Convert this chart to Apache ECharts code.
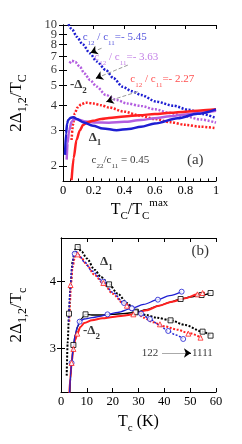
<!DOCTYPE html>
<html><head><meta charset="utf-8">
<script src="https://cdn.jsdelivr.net/npm/echarts@6/dist/echarts.min.js"></script>
<style>html,body{margin:0;padding:0;background:#fff}#c{width:242px;height:444px}</style>
</head><body><div id="c"></div>
<script>
// ---------- Panel (a) data: [Tc/Tc_max, 2Δ/Tc] ----------
const aBlueDotted = [[0.035,10.1],[0.06,9.5],[0.09,8.75],[0.13,8.0],[0.176,7.24],[0.22,6.6],[0.28,5.98],[0.33,5.45],[0.39,4.94],[0.45,4.7],[0.51,4.5],[0.61,4.17],[0.72,3.98],[0.82,3.8],[0.91,3.62],[1.0,3.45]];
const aPurpleDotted = [[0.043,6.46],[0.058,6.65],[0.08,6.55],[0.11,6.21],[0.14,5.75],[0.176,5.34],[0.22,4.95],[0.28,4.5],[0.35,4.25],[0.42,4.08],[0.51,3.97],[0.6,3.82],[0.7,3.66],[0.8,3.52],[0.9,3.4],[1.0,3.28]];
const aRedDotted = [[0.056,2.69],[0.065,3.2],[0.077,3.65],[0.095,3.9],[0.12,4.05],[0.15,4.12],[0.2,4.08],[0.25,4.0],[0.3,3.9],[0.4,3.72],[0.5,3.56],[0.6,3.42],[0.7,3.3],[0.8,3.2],[0.9,3.13],[1.0,3.08]];
const aBlueSolid = [[0.013,2.27],[0.02,2.9],[0.027,3.25],[0.034,3.38],[0.05,3.47],[0.067,3.49],[0.09,3.42],[0.13,3.3],[0.196,3.17],[0.26,3.07],[0.35,3.01],[0.43,3.05],[0.51,3.13],[0.6,3.25],[0.75,3.45],[0.88,3.63],[1.0,3.82]];
const aPurpleSolid = [[0.024,2.15],[0.03,2.6],[0.04,3.0],[0.056,3.31],[0.07,3.4],[0.085,3.42],[0.11,3.38],[0.15,3.32],[0.2,3.29],[0.3,3.28],[0.4,3.31],[0.51,3.38],[0.6,3.45],[0.7,3.53],[0.8,3.6],[0.9,3.68],[1.0,3.76]];
const aRedSolid = [[0.056,1.7],[0.07,2.2],[0.088,2.69],[0.11,3.0],[0.131,3.19],[0.16,3.3],[0.196,3.35],[0.25,3.42],[0.3,3.46],[0.4,3.52],[0.5,3.57],[0.6,3.62],[0.7,3.67],[0.8,3.72],[0.9,3.77],[1.0,3.82]];
const aXTicks = [0,0.2,0.4,0.6,0.8,1];
const aYTicks = [2,3,4,5,6,7,8,9,10];
const aArrows = [[[0.252,7.67],[0.18,7.29]],[[0.424,6.33],[0.215,5.44]],[[0.488,4.67],[0.284,4.17]]];
const aTexts = [
  {t:'c{s|12} / c{s|11}=- 5.45', at:[0.129,8.67], color:'#1e1ed2', size:11},
  {t:'c{s|12} / c{s|11}=- 3.63', at:[0.205,6.90], color:'#b35ee0', size:11},
  {t:'c{s|12} / c{s|11}=- 2.27', at:[0.44,5.40], color:'#ff2020', size:11},
  {t:'-Δ{s|2}', at:[0.045,5.04], color:'#000', size:13, bold:true},
  {t:'Δ{s|1}', at:[0.168,2.78], color:'#000', size:13, bold:true},
  {t:'c{s|22}/c{s|11} = 0.45', at:[0.187,2.14], color:'#000', size:11},
  {t:'(a)', at:[0.81,2.14], color:'#000', size:15}
];
// ---------- Panel (b) data: [Tc (K), 2Δ/Tc] ----------
const bBlackD1 = [[2.2,2.59],[2.6,3.1],[3.1,3.52],[3.7,3.95],[4.5,4.3],[5.4,4.48],[6.45,4.52],[8,4.45],[10,4.35],[13,4.18],[15.5,4.07],[18.6,3.96],[22,3.82],[25.5,3.68],[29,3.55],[33,3.5],[37,3.46],[42.4,3.42],[48,3.35],[54.8,3.25],[57.9,3.19]];
const bBlueD1 = [[3.0,3.4],[3.5,3.85],[4.2,4.2],[5.0,4.4],[5.7,4.46],[7,4.4],[9,4.3],[12,4.16],[16.4,4.0],[20,3.84],[24.4,3.68],[28.6,3.58],[31,3.52],[34.4,3.44],[38,3.35],[41.5,3.26],[44.5,3.2],[47.3,3.14]];
const bRedD1 = [[3.2,3.4],[3.5,3.7],[3.8,3.95],[4.5,4.22],[5.4,4.38],[6.45,4.41],[8,4.35],[10,4.25],[13,4.1],[16.5,3.97],[20,3.82],[24,3.68],[28.8,3.56],[32,3.46],[35.7,3.39],[40,3.33],[45,3.28],[49.3,3.23],[54.4,3.16]];
const bBlackD2 = [[3.4,2.3],[4.1,2.78],[4.8,3.05],[5.5,3.2],[6.5,3.33],[7.5,3.43],[9.5,3.51],[12,3.5],[16,3.5],[20,3.51],[24,3.52],[28.8,3.54],[33,3.58],[38,3.64],[42,3.69],[46.3,3.74],[50,3.77],[54.4,3.8],[57.9,3.83]];
const bBlueD2 = [[3.3,2.3],[3.7,2.6],[4.1,2.78],[4.8,3.03],[5.5,3.2],[6.3,3.32],[7.2,3.4],[9,3.44],[12,3.46],[15,3.48],[18,3.51],[22,3.54],[27.4,3.6],[32,3.66],[37.5,3.73],[42,3.79],[46.7,3.85]];
const bRedD2 = [[3.2,2.3],[3.6,2.55],[4.1,2.78],[4.8,2.99],[5.5,3.13],[6.3,3.22],[7.5,3.32],[9,3.38],[12,3.42],[16,3.45],[20,3.47],[24,3.49],[28,3.51],[33,3.57],[38,3.64],[43,3.7],[48,3.75],[52.8,3.81],[55.6,3.84]];
const bBlackD1Mk = [[3.1,3.52],[6.45,4.52],[18.6,3.96],[29,3.55],[42.4,3.42],[54.8,3.25],[57.9,3.19]];
const bBlackD2Mk = [[4.8,3.05],[9.5,3.51],[28.8,3.54],[46.3,3.74],[54.4,3.8],[57.9,3.83]];
const bBlueD1Mk = [[5.3,4.42],[16.4,4.0],[24.4,3.68],[27.5,3.6],[31,3.52],[34.4,3.44],[41.5,3.26],[47.3,3.14]];
const bBlueD2Mk = [[4.1,2.78],[7.2,3.4],[18,3.51],[27.4,3.6],[37.5,3.73],[46.7,3.85]];
const bRedD1Mk = [[3.7,3.95],[6.45,4.41],[16.4,3.98],[25.5,3.64],[38.3,3.36],[49.3,3.22],[54,3.16]];
const bRedD2Mk = [[4.1,2.78],[4.8,2.99],[6.3,3.22],[28,3.51],[52.8,3.81],[54.8,3.83]];
const bXTicks = [0,10,20,30,40,50,60];
const bYTicks = [3,4];
const bArrow = [[39.1,2.93],[50.3,2.93]];
const bTexts = [
  {t:'Δ{s|1}', at:[15.1,4.30], color:'#000', size:13, bold:true},
  {t:'-Δ{s|2}', at:[8.5,3.26], color:'#000', size:13, bold:true},
  {t:'(b)', at:[50.5,4.46], color:'#000', size:15},
  {t:'122', at:[31.3,2.93], color:'#000', size:11},
  {t:'1111', at:[50.7,2.93], color:'#000', size:11}
];

const FF = 'Liberation Serif';
const BLUE = '#1e1ed2', PURPLE = '#b35ee0', RED = '#ff2020';
const rich = (size) => ({
  m: {fontSize:size, lineHeight:size+8, verticalAlign:'middle'},
  s: {fontSize:Math.round(size*0.68), lineHeight:8, verticalAlign:'bottom'},
  p: {fontSize:Math.round(size*0.68), lineHeight:8, verticalAlign:'top'}
});
function textSeries(list, xi, yi) {
  return {
    type:'scatter', xAxisIndex:xi, yAxisIndex:yi, symbolSize:0, silent:true, z:10,
    data: list.map(o => ({
      value:o.at,
      label:{show:true, position:[0,0], align:'left', verticalAlign:'middle',
        formatter:'{m|' + o.t.replace(/\{s\|([^}]*)\}/g,'}{s|$1}{m|') + '}',
        color:o.color, fontFamily:FF, fontSize:o.size, fontWeight:o.bold?'bold':'normal', rich:rich(o.size)}
    }))
  };
}
// y tick labels of the log axis, placed through the axis scale
function yTickLabels(ticks, xi, yi) {
  return {
    type:'scatter', xAxisIndex:xi, yAxisIndex:yi, symbolSize:0, silent:true, clip:false, z:10,
    data: ticks.map(v => [0, v]),
    label:{show:true, position:[-6,0], align:'right', verticalAlign:'middle', color:'#000', fontFamily:FF, fontSize:12.5,
      formatter:p => String(p.value[1])}
  };
}
function line(data, xi, yi, color, w, dotted) {
  return {type:'line', xAxisIndex:xi, yAxisIndex:yi, data, showSymbol:false, symbol:'none', smooth:0.3, smoothMonotone:'x',
    lineStyle:{color, width:w, type: dotted ? [2,1.6] : 'solid'}, clip:true, silent:true};
}
function marks(data, xi, yi, symbol, color) {
  return {type:'scatter', xAxisIndex:xi, yAxisIndex:yi, data, symbol, symbolSize:5, silent:true, z:5,
    itemStyle:{color:'#fff', borderColor:color, borderWidth:1}};
}
function arrowLines(arr, xi, yi, tailColor, tailType) {
  const d = [];
  arr.forEach(([t,h]) => {
    const n = [h[0] + (t[0]-h[0])*0.12, h[1] + (t[1]-h[1])*0.12];
    d.push([{coord:t, lineStyle:{color:tailColor, type:tailType, width:1}, symbol:'none'},{coord:h, symbol:'none'}]);
    d.push([{coord:n, lineStyle:{color:'#000', type:'solid', width:1}, symbol:'none'},{coord:h, symbol:'arrow', symbolSize:7}]);
  });
  return {type:'line', xAxisIndex:xi, yAxisIndex:yi, data:[], silent:true,
    markLine:{silent:true, animation:false, symbol:['none','arrow'], symbolSize:7, label:{show:false}, data:d}};
}

const tickStyle = {show:true, inside:true, length:4, lineStyle:{color:'#000', width:1}};
const axLine = {show:true, lineStyle:{color:'#000', width:1}};
const lab = {color:'#000', fontFamily:FF, fontSize:12.5, interval:0, showMinLabel:true, showMaxLabel:true};

const option = {
  animation:false,
  grid:[{left:61, top:25, width:155, height:156},{left:61, top:238, width:155, height:154}],
  xAxis:[
    {type:'value', gridIndex:0, min:0, max:1, interval:0.2, axisLine:axLine, axisTick:tickStyle,
     minorTick:{show:true, splitNumber:4, length:2.5, lineStyle:{color:'#000'}}, splitLine:{show:false},
     axisLabel:Object.assign({}, lab, {margin:3, customValues:aXTicks}),
     name:'{m|T}{s|C}{m|/T}{s|C}{p|max}', nameLocation:'middle', nameGap:10,
     nameTextStyle:{color:'#000', fontFamily:FF, fontSize:16, rich:rich(16)}},
    {type:'value', gridIndex:0, min:0, max:1, interval:0.2, position:'top', axisLine:axLine, axisTick:tickStyle,
     axisLabel:{show:false}, splitLine:{show:false}},
    {type:'value', gridIndex:1, min:0, max:60, interval:10, axisLine:axLine, axisTick:tickStyle, splitLine:{show:false},
     axisLabel:Object.assign({}, lab, {margin:3, customValues:bXTicks}),
     name:'{m|T}{s|c}{m| (K)}', nameLocation:'middle', nameGap:18,
     nameTextStyle:{color:'#000', fontFamily:FF, fontSize:16, rich:rich(16)}},
    {type:'value', gridIndex:1, min:0, max:60, interval:10, position:'top', axisLine:axLine, axisTick:tickStyle,
     axisLabel:{show:false}, splitLine:{show:false}}
  ],
  yAxis:[
    {type:'log', logBase:10, gridIndex:0, min:1.685, max:10.002, axisLine:axLine,
     axisTick:Object.assign({customValues:aYTicks}, tickStyle), splitLine:{show:false},
     axisLabel:{show:false},
     name:'{m|2Δ}{s|1,2}{m|/T}{s|C}', nameLocation:'middle', nameGap:34, nameRotate:90,
     nameTextStyle:{color:'#000', fontFamily:FF, fontSize:17, rich:rich(17)}},
    {type:'log', logBase:10, gridIndex:0, min:1.685, max:10.002, position:'right', axisLine:axLine,
     axisTick:Object.assign({customValues:aYTicks}, tickStyle), axisLabel:{show:false}, splitLine:{show:false}},
    {type:'value', gridIndex:1, min:2.344, max:4.656, axisLine:axLine,
     axisTick:Object.assign({customValues:bYTicks}, tickStyle), splitLine:{show:false},
     axisLabel:Object.assign({}, lab, {margin:5, customValues:bYTicks}),
     name:'{m|2Δ}{s|1,2}{m|/T}{s|c}', nameLocation:'middle', nameGap:32, nameRotate:90,
     nameTextStyle:{color:'#000', fontFamily:FF, fontSize:17, rich:rich(17)}},
    {type:'value', gridIndex:1, min:2.344, max:4.656, position:'right', axisLine:axLine,
     axisTick:Object.assign({customValues:bYTicks}, tickStyle), axisLabel:{show:false}, splitLine:{show:false}}
  ],
  series:[
    line(aBlueDotted,0,0,BLUE,2.5,true),
    line(aPurpleDotted,0,0,PURPLE,2.5,true),
    line(aRedDotted,0,0,RED,2.5,true),
    line(aPurpleSolid,0,0,PURPLE,2.5,false),
    line(aRedSolid,0,0,RED,2.5,false),
    line(aBlueSolid,0,0,BLUE,2.5,false),
    arrowLines(aArrows,0,0,'#999','dashed'),
    textSeries(aTexts,0,0),
    yTickLabels(aYTicks,0,0),
    line(bBlackD1,2,2,'#000',2,true),
    line(bRedD1,2,2,RED,2,true),
    line(bBlueD1,2,2,BLUE,1.5,true),
    line(bBlackD2,2,2,'#000',1.3,false),
    line(bRedD2,2,2,RED,2,false),
    line(bBlueD2,2,2,BLUE,1.3,false),
    marks(bBlackD1Mk,2,2,'rect','#000'),
    marks(bBlackD2Mk,2,2,'rect','#000'),
    marks(bBlueD1Mk,2,2,'circle',BLUE),
    marks(bBlueD2Mk,2,2,'circle',BLUE),
    marks(bRedD1Mk,2,2,'triangle',RED),
    marks(bRedD2Mk,2,2,'triangle',RED),
    arrowLines([bArrow],2,2,'#aaa','solid'),
    textSeries(bTexts,2,2)
  ]
};
echarts.init(document.getElementById('c'), null, {renderer:'canvas'}).setOption(option);
</script></body></html>
